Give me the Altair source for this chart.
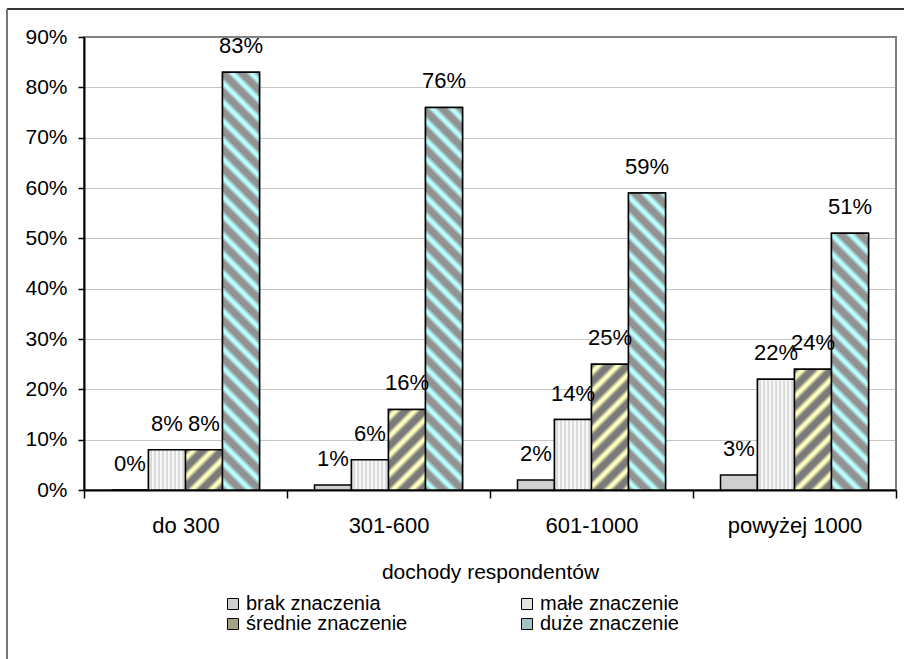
import math
import altair as alt
import pandas as pd

# Income groups, importance levels and shares (%) of respondents
categories = ["do 300", "301-600", "601-1000", "powyżej 1000"]
series = ["brak znaczenia", "małe znaczenie", "średnie znaczenie", "duże znaczenie"]
brak = [0, 1, 2, 3]
male = [8, 6, 14, 22]
srednie = [8, 16, 25, 24]
duze = [83, 76, 59, 51]
y_ticks = [0, 10, 20, 30, 40, 50, 60, 70, 80, 90]

rows = []
for i, cat in enumerate(categories):
    for s, vals in zip(series, [brak, male, srednie, duze]):
        rows.append({"cat": cat, "series": s, "value": vals[i]})
df = pd.DataFrame(rows)

FONT = "Liberation Sans"
W, H = 812, 453
Y_MAX = 90
BAND = W / len(categories)
BAR_W = 37.0
OFFSET_PAD = (BAND / BAR_W - len(series)) / 2

flat_colors = ["#d0d0d0", "#e2e2e2", "#a3a384", "#a2c4c4"]


def diagonal_fill(value, base, stripe, rising, period=19.0):
    """Linear gradient drawing 45-degree stripes across one bar."""
    w = BAR_W
    h = value / Y_MAX * H
    total = w + h
    k = (w + h) / (w * w + h * h)
    stops = []
    n = int(math.ceil(total / period)) + 1
    for j in range(n):
        start = j * period
        for frac, col in [(0.14, base), (0.38, stripe), (0.52, stripe), (0.78, base)]:
            off = (start + frac * period) / total
            if off <= 1.0:
                stops.append({"offset": round(off, 5), "color": col})
    if rising:
        coords = dict(x1=0, y1=0, x2=w * k, y2=h * k)
    else:
        coords = dict(x1=0, y1=1, x2=w * k, y2=1 - h * k)
    return {"gradient": "linear", **coords, "stops": stops}


def vertical_fill(light, dark, period=4.0):
    """Linear gradient drawing thin vertical stripes across a bar."""
    stops = []
    n = int(math.ceil(BAR_W / period)) + 1
    for j in range(n):
        start = j * period
        for frac, col in [(0.0, light), (0.45, light), (0.6, dark), (0.85, light)]:
            off = (start + frac * period) / BAR_W
            if off <= 1.0:
                stops.append({"offset": round(off, 5), "color": col})
    return {"gradient": "linear", "x1": 0, "y1": 0, "x2": 1, "y2": 0, "stops": stops}


x_enc = alt.X(
    "cat:N",
    sort=categories,
    scale=alt.Scale(domain=categories, paddingInner=0, paddingOuter=0),
    axis=alt.Axis(
        title="dochody respondentów",
        tickBand="extent",
        labelAngle=0,
        tickSize=8,
        tickColor="black",
        tickWidth=1.5,
        domainColor="black",
        domainWidth=2,
        labelPadding=17,
        labelFontSize=22,
        labelColor="black",
        labelFont=FONT,
        titleFont=FONT,
        titleFontSize=21,
        titleFontWeight="normal",
        titleColor="black",
        titlePadding=25,
        grid=False,
    ),
)
xoff_enc = alt.XOffset(
    "series:N",
    sort=series,
    scale=alt.Scale(domain=series, paddingInner=0, paddingOuter=OFFSET_PAD),
)
y_enc = alt.Y(
    "value:Q",
    scale=alt.Scale(domain=[0, Y_MAX], nice=False, zero=True),
    axis=alt.Axis(
        title=None,
        values=y_ticks,
        labelExpr="datum.value + '%'",
        tickSize=6,
        tickColor="black",
        tickWidth=1.5,
        domainColor="black",
        domainWidth=2,
        labelPadding=11,
        labelFontSize=21,
        labelColor="black",
        labelFont=FONT,
        grid=True,
        gridColor="#8a8a8a",
        gridDash=[1, 1],
        gridWidth=1,
    ),
)

base = alt.Chart(df)

bars = base.mark_bar(stroke="black", strokeWidth=1.5).encode(
    x=x_enc,
    xOffset=xoff_enc,
    y=y_enc,
    color=alt.Color(
        "series:N",
        sort=series,
        scale=alt.Scale(domain=series, range=flat_colors),
        legend=alt.Legend(
            title=None,
            orient="none",
            legendX=139,
            legendY=557,
            direction="horizontal",
            columns=2,
            columnPadding=109,
            rowPadding=0,
            symbolType="square",
            symbolSize=121,
            symbolStrokeColor="black",
            symbolStrokeWidth=1,
            labelFontSize=20,
            labelFont=FONT,
            labelColor="black",
            labelOffset=3,
            labelLimit=0,
            padding=0,
        ),
    ),
)

layers = [bars]

# striped overlay for "małe znaczenie"
layers.append(
    base.transform_filter(alt.datum.series == series[1])
    .mark_bar(fill=vertical_fill("#f8f8f8", "#aaaaaa"), stroke="black", strokeWidth=1.5)
    .encode(x=x_enc, xOffset=xoff_enc, y=y_enc)
)

# diagonal stripes for "średnie" and "duże znaczenie", one gradient per bar
for s, vals, base_col, stripe_col, rising in [
    (series[2], srednie, "#7a7a7a", "#ffffbe", True),
    (series[3], duze, "#929292", "#b8ffff", False),
]:
    for cat, v in zip(categories, vals):
        if v <= 0:
            continue
        layers.append(
            base.transform_filter((alt.datum.series == s) & (alt.datum.cat == cat))
            .mark_bar(fill=diagonal_fill(v, base_col, stripe_col, rising),
                      stroke="black", strokeWidth=1.5)
            .encode(x=x_enc, xOffset=xoff_enc, y=y_enc)
        )

labels = base.transform_calculate(label="datum.value + '%'").mark_text(
    baseline="alphabetic", dy=-19, fontSize=22, font=FONT, color="black"
).encode(x=x_enc, xOffset=xoff_enc, y=y_enc, text="label:N")
layers.append(labels)

# outer frame of the chart
frame = alt.Data(values=[{}])
frame_top = alt.Chart(frame).mark_rule(color="#333333", strokeWidth=2).encode(
    x=alt.value(-77), x2=alt.value(830), y=alt.value(-28)
)
frame_left = alt.Chart(frame).mark_rule(color="#777777", strokeWidth=2).encode(
    x=alt.value(-77), y=alt.value(-28), y2=alt.value(640)
)
layers += [frame_top, frame_left]

chart = (
    alt.layer(*layers)
    .properties(
        width=W,
        height=H,
        padding={"left": 84, "top": 37, "right": 8, "bottom": 169},
        autosize=alt.AutoSizeParams(type="none"),
        background="white",
    )
    .configure_view(stroke="#808080", strokeWidth=2)
)

chart.save("out.html", embed_options={"renderer": "svg", "actions": False})
